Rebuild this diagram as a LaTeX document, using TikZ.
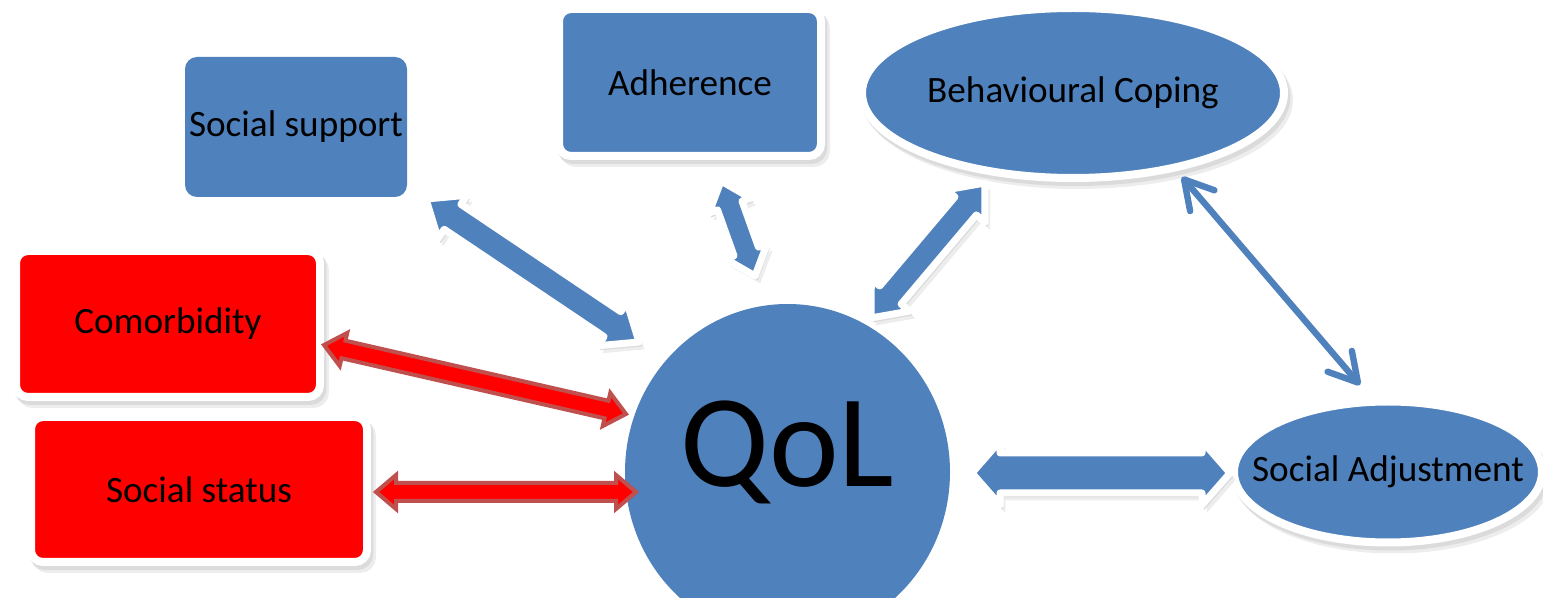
\documentclass[tikz,border=0pt]{standalone}
\usepackage{fontspec}
\setmainfont{Carlito}
\usetikzlibrary{calc,shapes.geometric,arrows.meta}
\definecolor{qblue}{HTML}{4F81BD}
\definecolor{qred}{HTML}{FF0000}
\definecolor{qdred}{HTML}{C0504D}

% block double arrow between two named coordinates
% #1 style, #2 from, #3 to, #4 shaft half width, #5 head half width, #6 head length
\newcommand\blockarrow[6]{%
  \path let \p1=(#2), \p2=(#3),
    \n1={atan2(\y2-\y1,\x2-\x1)}, \n2={veclen(\x2-\x1,\y2-\y1)} in
    \pgfextra{\xdef\baang{\n1}\xdef\balen{\n2}};
  \begin{scope}[shift={(#2)}, rotate=\baang]
    \path[#1] (0pt,0pt) -- (#6,#5) -- (#6,#4) -- ({\balen-#6},#4) -- ({\balen-#6},#5)
      -- (\balen,0pt) -- ({\balen-#6},-#5) -- ({\balen-#6},-#4) -- (#6,-#4) -- (#6,-#5) -- cycle;
  \end{scope}
}

\begin{document}
\begin{tikzpicture}[x=0.5pt,y=-0.5pt,
  lbl/.style={font=\fontsize{18.6}{22}\selectfont, text=black},
  softshadow/.style={
    preaction={draw=black!7, fill=black!7, transform canvas={shift={(2.5pt,-3.5pt)}}},
    preaction={draw=black!14, fill=black!14, transform canvas={shift={(1.2pt,-2pt)}}}},
  framed/.style={draw=white, line width=4pt, softshadow},
  bluebox/.style={rectangle, rounded corners=6pt, fill=qblue, inner sep=0pt, lbl},
  redbox/.style={rectangle, rounded corners=6pt, fill=qred, inner sep=0pt, lbl, framed},
  oval/.style={ellipse, fill=qblue, inner sep=0pt, lbl},
  bluearrow/.style={fill=qblue, draw=white, line width=3.5pt, line join=round, softshadow},
  redarrow/.style={fill=qred, draw=qdred, line width=2pt, line join=miter},
  thinarrow/.style={draw=qblue, line width=3.2pt,
    {Straight Barb[length=14pt,width=16pt,round]}-{Straight Barb[length=14pt,width=16pt,round]}},
]
\useasboundingbox (0,0) rectangle (1543,598);

% nodes
\node[bluebox, minimum width=111pt, minimum height=70pt] (ss) at (296,127) {Social support};
\node[bluebox, framed, minimum width=131pt, minimum height=73.5pt] (adh) at (690,82.5) {Adherence};
\node[oval, framed, minimum width=211pt, minimum height=85pt] (bc) at (1073,93) {Behavioural Coping};
\node[redbox, minimum width=152pt, minimum height=73pt] (com) at (168,324) {Comorbidity};
\node[redbox, minimum width=168pt, minimum height=72.5pt] (sst) at (199,489.5) {Social status};
\node[oval, framed, minimum width=154pt, minimum height=70.5pt,
  label={[lbl]center:Social Adjustment}] (sa) at (1388,472) {};
\node[oval, minimum width=162.5pt, minimum height=168pt,
  label={[font=\fontsize{66}{70}\selectfont, text=black, yshift=10pt]center:QoL}] (qol) at (787.5,472) {};

% connector end points
\coordinate (ssA) at (426,199);   \coordinate (qolA) at (639,342);
\coordinate (adhA) at (721,181);  \coordinate (qolB) at (755,276);
\coordinate (bcA) at (985,183);   \coordinate (qolC) at (871,318);
\coordinate (bcB) at (1182,177);  \coordinate (saA) at (1360,385);
\coordinate (comA) at (324,345);  \coordinate (qolD) at (626,414);
\coordinate (sstA) at (376,492);  \coordinate (qolE) at (636,492);
\coordinate (qolF) at (972,473);  \coordinate (saB) at (1230,473);

% connectors
\blockarrow{bluearrow}{ssA}{qolA}{7.5pt}{13pt}{16pt}
\blockarrow{bluearrow}{adhA}{qolB}{6.5pt}{11pt}{13pt}
\blockarrow{bluearrow}{bcA}{qolC}{7pt}{12.5pt}{15pt}
\blockarrow{bluearrow}{qolF}{saB}{10pt}{16pt}{14pt}
\blockarrow{redarrow}{comA}{qolD}{4.5pt}{8.5pt}{10pt}
\blockarrow{redarrow}{sstA}{qolE}{4.5pt}{8.5pt}{10pt}
\draw[thinarrow] (bcB) -- (saA);
\end{tikzpicture}
\end{document}
